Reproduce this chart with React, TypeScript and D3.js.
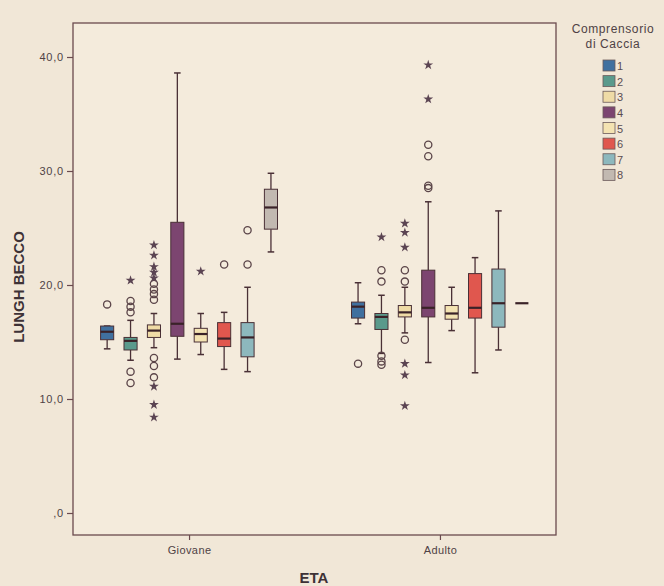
import * as d3 from 'd3';
import { useEffect, useRef } from 'react';

// ETA groups and hunting districts ("Comprensorio di Caccia")
const etaCategories = ['Giovane', 'Adulto'];
const comprensori = ['1', '2', '3', '4', '5', '6', '7', '8'];
const boxColors = ['#40709f', '#5a9a8c', '#efdba6', '#7c4570', '#f4e3b2', '#e0574e', '#8db8bd', '#c2b9b1'];

// box stats per comprensorio, Giovane
const giovaneMin = [14.4, 13.4, 14.5, 13.5, 13.9, 12.6, 12.4, 22.9];
const giovaneQ1 = [15.2, 14.3, 15.4, 15.5, 15.0, 14.6, 13.7, 24.9];
const giovaneMedian = [15.9, 15.1, 16.0, 16.6, 15.7, 15.3, 15.4, 26.8];
const giovaneQ3 = [16.4, 15.4, 16.5, 25.5, 16.2, 16.7, 16.7, 28.4];
const giovaneMax = [16.4, 16.9, 17.5, 38.6, 17.5, 17.6, 19.8, 29.8];
const giovaneOutliers = [[18.3], [18.6, 18.1, 17.6, 12.4, 11.4], [20.1, 19.6, 19.2, 18.7, 13.6, 12.9, 11.9], [], [], [21.8], [21.8, 24.8], []];
const giovaneExtremes = [[], [20.4], [23.5, 22.6, 21.6, 21.1, 20.6, 11.1, 9.5, 8.4], [], [21.2], [], [], []];

// box stats per comprensorio, Adulto
const adultoMin = [16.6, 14.0, 15.8, 13.2, 16.0, 12.3, 14.3, 18.4];
const adultoQ1 = [17.1, 16.1, 17.2, 17.2, 17.0, 17.1, 16.3, 18.4];
const adultoMedian = [18.1, 17.2, 17.6, 18.0, 17.5, 18.0, 18.4, 18.4];
const adultoQ3 = [18.5, 17.5, 18.2, 21.3, 18.2, 21.0, 21.4, 18.4];
const adultoMax = [20.2, 19.1, 19.8, 27.3, 19.8, 22.4, 26.5, 18.4];
const adultoOutliers = [[13.1], [21.3, 20.3, 13.8, 13.3, 13.0], [21.3, 20.3, 15.2], [28.5, 28.7, 31.3, 32.3], [], [], [], []];
const adultoExtremes = [[], [24.2], [25.4, 24.6, 23.3, 13.1, 12.1, 9.4], [36.3, 39.3], [], [], [], []];

const yTicks = [0, 10, 20, 30, 40];

const ink = '#4a3036';
const textCol = '#4f4245';

function App() {
  const svgRef = useRef<SVGSVGElement>(null);

  useEffect(() => {
    const w = 664;
    const h = 586;
    const svg = d3.select(svgRef.current);
    svg.selectAll('*').remove();
    svg.attr('width', w).attr('height', h)
      .style('display', 'block')
      .style('position', 'fixed')
      .style('left', '0px')
      .style('top', '0px');

    svg.append('rect').attr('width', w).attr('height', h).attr('fill', '#f1e7d7');

    const left = 73, right = 556, top = 23, bottom = 535;

    const yScale = d3.scaleLinear().domain([0, 40]).range([513, 57]);
    const xScale = d3.scalePoint().domain(etaCategories).range([left, right]).padding(0.4625);
    const inner = d3.scaleBand().domain(comprensori).range([-93.6, 93.6]).paddingInner(0.44).paddingOuter(0.22);
    const bw = inner.bandwidth();

    // frame
    svg.append('rect')
      .attr('x', left).attr('y', top)
      .attr('width', right - left).attr('height', bottom - top)
      .attr('fill', '#f4ebdc').attr('stroke', '#6b4a4e').attr('stroke-width', 1.3);

    // y axis
    const yAxis = d3.axisLeft(yScale)
      .tickValues(yTicks)
      .tickSize(6)
      .tickFormat(d => (d === 0 ? ',0' : (d as number).toFixed(1).replace('.', ',')));
    const gy = svg.append('g').attr('transform', `translate(${left},0)`).call(yAxis);
    gy.select('.domain').remove();
    gy.selectAll('line').attr('stroke', '#6b4a4e').attr('stroke-width', 1.2);
    gy.selectAll('text')
      .attr('fill', textCol)
      .style('font', "11px 'Liberation Sans', Arial, sans-serif")
      .style('letter-spacing', '0.8px');

    // x axis
    const xAxis = d3.axisBottom(xScale).tickSize(5).tickPadding(6);
    const gx = svg.append('g').attr('transform', `translate(0,${bottom})`).call(xAxis);
    gx.select('.domain').remove();
    gx.selectAll('line').attr('stroke', '#6b4a4e').attr('stroke-width', 1.2);
    gx.selectAll('text')
      .attr('fill', textCol)
      .style('font', "11px 'Liberation Sans', Arial, sans-serif")
      .style('letter-spacing', '0.4px');

    // axis titles
    svg.append('text')
      .attr('transform', `translate(24,287) rotate(-90)`)
      .attr('text-anchor', 'middle')
      .attr('fill', '#3e3236')
      .style('font', "bold 15px 'Liberation Sans', Arial, sans-serif")
      .text('LUNGH BECCO');
    svg.append('text')
      .attr('x', 314).attr('y', 583)
      .attr('text-anchor', 'middle')
      .attr('fill', '#3e3236')
      .style('font', "bold 15px 'Liberation Sans', Arial, sans-serif")
      .text('ETA');

    const groups = [
      { eta: 'Giovane', min: giovaneMin, q1: giovaneQ1, med: giovaneMedian, q3: giovaneQ3, max: giovaneMax, out: giovaneOutliers, ext: giovaneExtremes },
      { eta: 'Adulto', min: adultoMin, q1: adultoQ1, med: adultoMedian, q3: adultoQ3, max: adultoMax, out: adultoOutliers, ext: adultoExtremes },
    ];

    const star = d3.symbol().type(d3.symbolStar).size(30);

    groups.forEach(g => {
      const cx0 = xScale(g.eta) as number;
      comprensori.forEach((c, i) => {
        const cx = cx0 + (inner(c) as number) + bw / 2;
        const gg = svg.append('g');
        const single = g.q1[i] === g.q3[i];

        if (!single) {
          // whiskers
          gg.append('line')
            .attr('x1', cx).attr('x2', cx)
            .attr('y1', yScale(g.max[i])).attr('y2', yScale(g.q3[i]))
            .attr('stroke', ink).attr('stroke-width', 1.3);
          gg.append('line')
            .attr('x1', cx).attr('x2', cx)
            .attr('y1', yScale(g.q1[i])).attr('y2', yScale(g.min[i]))
            .attr('stroke', ink).attr('stroke-width', 1.3);
          [g.max[i], g.min[i]].forEach(v => {
            gg.append('line')
              .attr('x1', cx - bw / 4).attr('x2', cx + bw / 4)
              .attr('y1', yScale(v)).attr('y2', yScale(v))
              .attr('stroke', ink).attr('stroke-width', 1.5);
          });
          gg.append('rect')
            .attr('x', cx - bw / 2).attr('width', bw)
            .attr('y', yScale(g.q3[i]))
            .attr('height', yScale(g.q1[i]) - yScale(g.q3[i]))
            .attr('fill', boxColors[i])
            .attr('stroke', ink).attr('stroke-width', 1);
        }
        gg.append('line')
          .attr('x1', cx - bw / 2).attr('x2', cx + bw / 2)
          .attr('y1', yScale(g.med[i])).attr('y2', yScale(g.med[i]))
          .attr('stroke', '#3a2228').attr('stroke-width', 2.2);

        g.out[i].forEach(v => {
          gg.append('circle')
            .attr('cx', cx).attr('cy', yScale(v)).attr('r', 3.6)
            .attr('fill', 'none').attr('stroke', '#5b4549').attr('stroke-width', 1.3);
        });
        g.ext[i].forEach(v => {
          gg.append('path')
            .attr('d', star)
            .attr('transform', `translate(${cx},${yScale(v)})`)
            .attr('fill', '#5b4452');
        });
      });
    });

    // legend
    const lg = svg.append('g');
    lg.append('text')
      .attr('x', 613).attr('y', 33)
      .attr('text-anchor', 'middle').attr('fill', textCol)
      .style('font', "12px 'Liberation Sans', Arial, sans-serif")
      .style('letter-spacing', '0.6px')
      .text('Comprensorio');
    lg.append('text')
      .attr('x', 613).attr('y', 48)
      .attr('text-anchor', 'middle').attr('fill', textCol)
      .style('font', "12px 'Liberation Sans', Arial, sans-serif")
      .style('letter-spacing', '0.6px')
      .text('di Caccia');
    const ly = d3.scaleBand().domain(comprensori).range([58, 183]);
    comprensori.forEach((c, i) => {
      lg.append('rect')
        .attr('x', 603).attr('y', (ly(c) as number) + 2)
        .attr('width', 12).attr('height', 11)
        .attr('fill', boxColors[i]).attr('stroke', '#6b5a5a').attr('stroke-width', 0.8);
      lg.append('text')
        .attr('x', 617).attr('y', (ly(c) as number) + 12)
        .attr('fill', '#5a4c50')
        .style('font', "11px 'Liberation Sans', Arial, sans-serif")
        .text(c);
    });
  }, []);

  return (
    <div>
      <svg ref={svgRef}></svg>
    </div>
  );
}

export default App;
